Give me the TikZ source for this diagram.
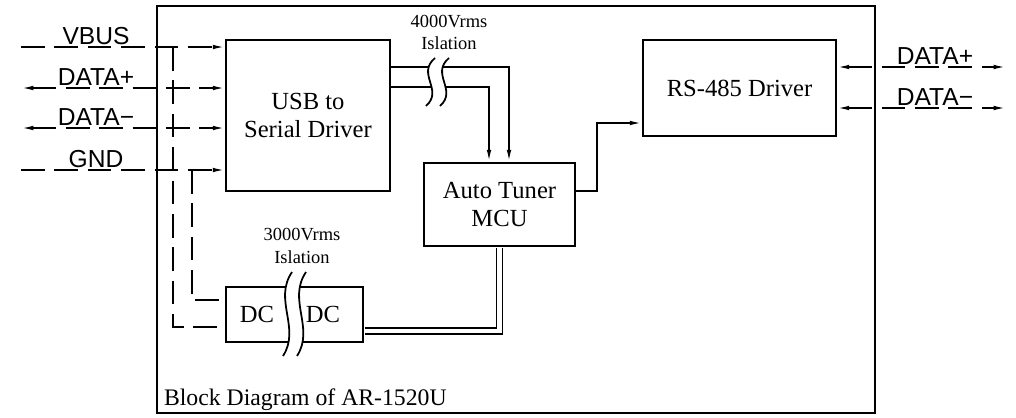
\documentclass[tikz,border=0pt]{standalone}
\usepackage{fontspec}
\setmainfont{Liberation Serif}
\setsansfont{Liberation Sans}
\usetikzlibrary{positioning,arrows.meta}

\begin{document}
\begin{tikzpicture}[x=0.02cm,y=-0.02cm,line width=1pt,
        >={Latex[length=7pt,width=2.6pt]},
        blk/.style={draw,inner sep=0pt,align=center,
                    font=\fontsize{14}{16}\selectfont},
        txt/.style={inner sep=0pt,font=\fontsize{14}{16}\selectfont},
        bus/.style={dash pattern=on 13.5pt off 5.5pt},
        pinlbl/.style={anchor=south,inner sep=1pt,
                    font=\sffamily\fontsize{14}{16}\selectfont},
        note/.style={align=center,inner sep=0pt,
                    font=\fontsize{10.5}{13}\selectfont},
        brk/.pic={
          \fill[white] (5,-24) .. controls (-14,-8) and (14,8) .. (-4,24)
            -- (10,24) .. controls (28,8) and (0,-8) .. (19,-24) -- cycle;
          \draw (5,-24) .. controls (-14,-8) and (14,8) .. (-4,24);
          \draw (19,-24) .. controls (0,-8) and (28,8) .. (10,24);
        }]
        \useasboundingbox (0,0) rectangle (1016,417);
        % frame
        \node[draw,minimum width=14.36cm,minimum height=8.14cm] (frame) at (516,209.5) {};
        \node[anchor=base west,inner sep=0pt,font=\fontsize{13.5}{16}\selectfont] (title)
          at ([xshift=0.14cm,yshift=0.16cm]frame.south west) {Block Diagram of AR-1520U};
        % blocks
        \node[blk,minimum width=3.28cm,minimum height=3.02cm] (usb) at (308,115.5) {USB to\\Serial Driver};
        \node[blk,minimum width=3.02cm,minimum height=1.66cm] (mcu) at (499.5,204.5) {Auto Tuner\\MCU};
        \node[blk,minimum width=3.86cm,minimum height=1.92cm] (rs) at (739.5,88) {RS-485 Driver};
        \node[blk,minimum width=2.74cm,minimum height=1.1cm] (dc) at (294.5,314.5) {};
        \node[txt] (dc1) at ([xshift=-0.75cm]dc.center) {DC};
        \node[txt] (dc2) at ([xshift=0.57cm]dc.center) {DC};
        % usb side
        \foreach \nm/\yy/\lbl in {vbus/47/VBUS,dp/88/DATA+,dm/128/DATA−,gnd/170/GND}{
          \coordinate (\nm) at (21,\yy);
          \node[pinlbl] (\nm-lbl) at (96,\yy) {\lbl};
        }
        \draw[bus,->] (vbus) -- (vbus -| usb.west);
        \draw[bus,<->] (dp) -- (dp -| usb.west);
        \draw[bus,<->] (dm) -- (dm -| usb.west);
        \draw[bus,->] (gnd) -- (gnd -| usb.west);
        \draw[bus] ([xshift=3.04cm]vbus) |- ([yshift=-0.25cm]dc.west);
        \draw[bus] ([xshift=3.42cm]gnd) |- ([yshift=0.29cm]dc.west);
        % inner links
        \draw[->] ([yshift=-0.56cm]usb.north east) -| ([xshift=0.19cm]mcu.north);
        \draw[->] ([yshift=-0.96cm]usb.north east) -| ([xshift=-0.21cm]mcu.north);
        \draw[->] ([yshift=0.27cm]mcu.east) -- ++(21,0) |- ([yshift=-0.7cm]rs.west);
        \draw[double,double distance=2.4pt,shorten <=0.5pt,shorten >=0.5pt]
          (mcu.south) |- ([yshift=-0.33cm]dc.east);
        % rs-485 side
        \foreach \nm/\yy/\lbl in {dpo/67/DATA+,dmo/108/DATA−}{
          \coordinate (\nm) at (1006,\yy);
          \node[pinlbl] (\nm-lbl) at (935,\yy) {\lbl};
          \draw[bus,<->] (\nm -| rs.east) -- (\nm);
        }
        % isolation
        \pic at (430,82) {brk};
        \node[note] (iso1) at (449,32.5) {4000Vrms\\Islation};
        \pic[yscale=1.75] at (287,314) {brk};
        \node[note] (iso2) at (302,246) {3000Vrms\\Islation};
      \end{tikzpicture}
\end{document}
